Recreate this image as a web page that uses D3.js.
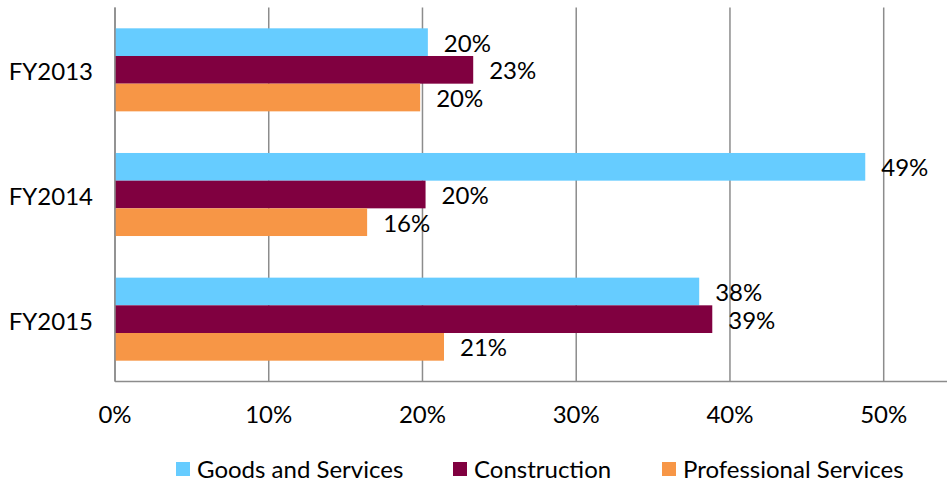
<!DOCTYPE html>
<html>
<head>
<meta charset="utf-8">
<script src="https://cdn.jsdelivr.net/npm/d3@7"></script>
<style>
  body { margin: 0; background: #fff; }
  svg text { font-family: Lato, "Open Sans", sans-serif; fill: #000; }
</style>
</head>
<body>
<div class="chart"></div>
<script>
var years = ["FY2013", "FY2014", "FY2015"];
var seriesNames = ["Goods and Services", "Construction", "Professional Services"];
var seriesColors = ["#66ccff", "#800040", "#f79646"];
var goods = [0.2035, 0.488, 0.380];
var construction = [0.233, 0.202, 0.3885];
var professional = [0.1985, 0.164, 0.214];
var xTicks = [0, 0.1, 0.2, 0.3, 0.4, 0.5];

var W = 950, H = 484;
var plotLeft = 115, plotRight = 947, plotTop = 7.5, plotBottom = 381.5;
var fs = 24;

var svg = d3.select(".chart").append("svg")
  .attr("width", W)
  .attr("height", H);

var x = d3.scaleLinear().domain([0, 0.5]).range([plotLeft, 883.7]);
var y = d3.scaleBand().domain(years).range([plotTop, plotBottom]).paddingInner(0.334).paddingOuter(0.167);
var ySub = d3.scaleBand().domain(seriesNames).range([0, y.bandwidth()]);

var rows = years.map(function(yr, i) {
  return { year: yr, vals: [goods[i], construction[i], professional[i]] };
});

// gridlines
svg.append("g").selectAll("line")
  .data(xTicks)
  .enter().append("line")
  .attr("x1", function(d) { return x(d); })
  .attr("x2", function(d) { return x(d); })
  .attr("y1", plotTop)
  .attr("y2", plotBottom)
  .attr("stroke", "#8c8c8c")
  .attr("stroke-width", 1.5);

// bars
var groups = svg.append("g").selectAll("g")
  .data(rows)
  .enter().append("g")
  .attr("transform", function(d) { return "translate(0," + y(d.year) + ")"; });

groups.selectAll("rect")
  .data(function(d) { return d.vals.map(function(v, j) { return { v: v, s: seriesNames[j], j: j }; }); })
  .enter().append("rect")
  .attr("x", x(0))
  .attr("y", function(d) { return ySub(d.s); })
  .attr("width", function(d) { return x(d.v) - x(0); })
  .attr("height", ySub.bandwidth())
  .attr("fill", function(d) { return seriesColors[d.j]; });

groups.selectAll("text")
  .data(function(d) { return d.vals.map(function(v, j) { return { v: v, s: seriesNames[j] }; }); })
  .enter().append("text")
  .attr("x", function(d) { return x(d.v) + 16; })
  .attr("y", function(d) { return ySub(d.s) + ySub.bandwidth() / 2 + 1; })
  .attr("dy", "0.35em")
  .attr("font-size", fs)
  .text(function(d) { return Math.round(d.v * 100) + "%"; });

// axes lines
svg.append("line")
  .attr("x1", plotLeft).attr("x2", plotRight)
  .attr("y1", plotBottom).attr("y2", plotBottom)
  .attr("stroke", "#8c8c8c").attr("stroke-width", 1.5);
svg.append("line")
  .attr("x1", plotLeft).attr("x2", plotLeft)
  .attr("y1", plotTop).attr("y2", plotBottom)
  .attr("stroke", "#8c8c8c").attr("stroke-width", 1.5);

// tick labels
svg.append("g").selectAll("text")
  .data(xTicks)
  .enter().append("text")
  .attr("x", function(d) { return x(d); })
  .attr("y", 415)
  .attr("dy", "0.35em")
  .attr("text-anchor", "middle")
  .attr("font-size", fs)
  .text(d3.format(".0%"));

// category labels
svg.append("g").selectAll("text")
  .data(years)
  .enter().append("text")
  .attr("x", 93)
  .attr("y", function(d) { return y(d) + y.bandwidth() / 2 + 2; })
  .attr("dy", "0.35em")
  .attr("text-anchor", "end")
  .attr("font-size", fs)
  .text(function(d) { return d; });

// legend
var legendX = [176, 453, 662];
var legend = svg.append("g").selectAll("g")
  .data(seriesNames)
  .enter().append("g")
  .attr("transform", function(d, i) { return "translate(" + legendX[i] + ",462)"; });
legend.append("rect")
  .attr("width", 14).attr("height", 14)
  .attr("fill", function(d, i) { return seriesColors[i]; });
legend.append("text")
  .attr("x", 21)
  .attr("y", 8)
  .attr("dy", "0.35em")
  .attr("font-size", fs)
  .text(function(d) { return d; });
</script>
</body>
</html>
